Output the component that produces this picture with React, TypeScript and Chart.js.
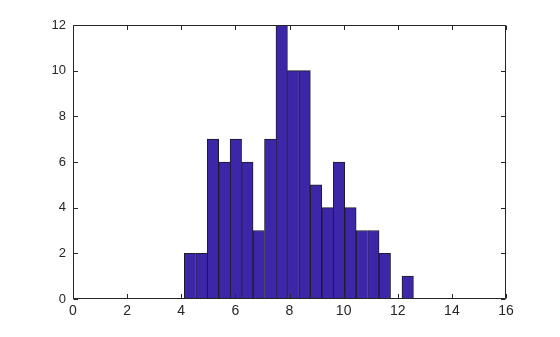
import React, { useEffect, useRef } from "react";
import { Chart, registerables } from "chart.js";

Chart.register(...registerables);

const binCenters = [
  4.325, 4.748, 5.172, 5.595, 6.018, 6.442, 6.865, 7.288, 7.712, 8.135,
  8.558, 8.982, 9.405, 9.828, 10.252, 10.675, 11.098, 11.522, 11.945, 12.368,
];
const counts = [2, 2, 7, 6, 7, 6, 3, 7, 12, 10, 10, 5, 4, 6, 4, 3, 3, 2, 0, 1];
const xTicks = [0, 2, 4, 6, 8, 10, 12, 14, 16];
const yTicks = [0, 2, 4, 6, 8, 10, 12];

const AXIS_COLOR = "#262626";
const BAR_COLOR = "#3e26a8";
const EDGE_COLOR = "#1c1c2a";
const FONT = "'Liberation Sans', Arial, Helvetica, sans-serif";

const boxPlugin = {
  id: "matlabBox",
  afterDatasetsDraw(chart: any) {
    const { ctx, chartArea, scales } = chart;
    const { left, right, top, bottom } = chartArea;
    const tl = 4.5;
    ctx.save();
    ctx.strokeStyle = AXIS_COLOR;
    ctx.lineWidth = 1;
    ctx.beginPath();
    const L = Math.round(left) + 0.5;
    const R = Math.round(right) - 0.5;
    const T = Math.round(top) + 0.5;
    const B = Math.round(bottom) - 0.5;
    ctx.moveTo(L, T);
    ctx.lineTo(R, T);
    ctx.lineTo(R, B);
    ctx.lineTo(L, B);
    ctx.closePath();
    for (const v of xTicks) {
      const px = Math.round(scales.x.getPixelForValue(v)) + 0.5;
      ctx.moveTo(px, B);
      ctx.lineTo(px, B - tl);
      ctx.moveTo(px, T);
      ctx.lineTo(px, T + tl);
    }
    for (const v of yTicks) {
      const py = Math.round(scales.y.getPixelForValue(v)) + 0.5;
      ctx.moveTo(L, py);
      ctx.lineTo(L + tl, py);
      ctx.moveTo(R, py);
      ctx.lineTo(R - tl, py);
    }
    ctx.stroke();
    ctx.restore();
  },
};

export default function App() {
  const ref = useRef<HTMLCanvasElement>(null);

  useEffect(() => {
    document.body.style.margin = "0";
    document.body.style.background = "#ffffff";
    const canvas = ref.current;
    if (!canvas) return;
    const chart = new Chart(canvas, {
      type: "bar",
      data: {
        datasets: [
          {
            data: counts.map((c, i) => ({ x: binCenters[i], y: c })),
            backgroundColor: BAR_COLOR,
            borderColor: EDGE_COLOR,
            borderWidth: (ctx: any) => {
              const i = ctx.dataIndex;
              const v = counts[i];
              if (!v) return 0;
              const next = counts[i + 1] ?? 0;
              return { left: 1, top: 1, bottom: 0, right: next < v ? 1 : 0 };
            },
            borderSkipped: false,
            barPercentage: 1,
            categoryPercentage: 1,
          } as any,
        ],
      },
      options: {
        responsive: false,
        animation: false,
        devicePixelRatio: 1,
        layout: { padding: { top: 25, right: 54, left: 0, bottom: 0 } },
        plugins: {
          legend: { display: false },
          tooltip: { enabled: false },
        },
        scales: {
          x: {
            type: "linear",
            offset: false,
            min: 0,
            max: 16,
            afterBuildTicks: (scale: any) => {
              scale.ticks = xTicks.map((v) => ({ value: v }));
            },
            afterFit: (scale: any) => {
              scale.height = 38;
            },
            ticks: {
              color: AXIS_COLOR,
              font: { family: FONT, size: 14 },
              padding: 4,
              maxRotation: 0,
              autoSkip: false,
            },
            grid: { display: false, drawTicks: false, offset: false },
            border: { display: false },
          },
          y: {
            type: "linear",
            min: 0,
            max: 12,
            afterBuildTicks: (scale: any) => {
              scale.ticks = yTicks.map((v) => ({ value: v }));
            },
            afterFit: (scale: any) => {
              scale.width = 73;
            },
            ticks: {
              color: AXIS_COLOR,
              font: { family: FONT, size: 13 },
              padding: 7,
              autoSkip: false,
            },
            grid: { display: false, drawTicks: false },
            border: { display: false },
          },
        },
      },
      plugins: [boxPlugin],
    });
    return () => chart.destroy();
  }, []);

  return (
    <div style={{ width: 560, height: 337, background: "#fff" }}>
      <canvas ref={ref} width={560} height={337} style={{ display: "block" }} />
    </div>
  );
}
